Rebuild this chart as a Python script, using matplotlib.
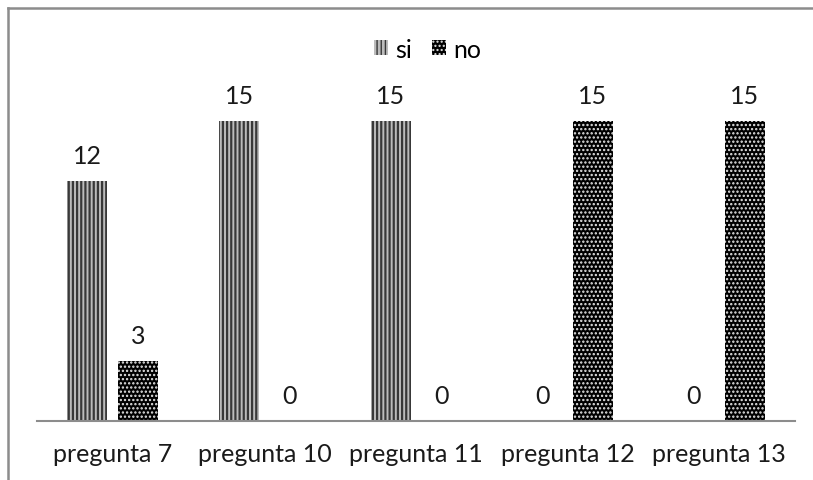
import matplotlib.pyplot as plt
from matplotlib.lines import Line2D
import numpy as np

categories = ['pregunta 7', 'pregunta 10', 'pregunta 11', 'pregunta 12', 'pregunta 13']
si_values = [12, 15, 15, 0, 0]
no_values = [3, 0, 0, 15, 15]

plt.rcParams['font.family'] = ['Lato', 'DejaVu Sans']

fig = plt.figure(figsize=(8.13, 4.81), dpi=100)
ax = fig.add_axes([37 / 813, 59 / 481, 758 / 813, 360 / 481])

x = np.arange(len(categories))
w = 0.264
off = 0.167

with plt.rc_context({'hatch.linewidth': 1.6}):
    bars_si = ax.bar(x - off, si_values, w, facecolor='#bcbcbc', edgecolor='#383838',
                     hatch='||||', linewidth=0, label='si')
with plt.rc_context({'hatch.linewidth': 1.1}):
    bars_no = ax.bar(x + off, no_values, w, facecolor='#000000', edgecolor='#e6e6e6',
                     hatch='....', linewidth=0, label='no')

for bars, vals in ((bars_si, si_values), (bars_no, no_values)):
    for b, v in zip(bars, vals):
        ax.annotate(str(v), (b.get_x() + b.get_width() / 2, v), xytext=(0, 10),
                    textcoords='offset points', ha='center', va='bottom',
                    fontsize=18, color='#1a1a1a')

ax.set_xlim(-0.5, len(categories) - 0.5)
ax.set_ylim(0, 18)
ax.set_xticks(x)
ax.set_xticklabels(categories, fontsize=18, color='#1a1a1a')
ax.tick_params(axis='x', length=0, pad=15)
ax.set_yticks([])
for s in ['top', 'right', 'left']:
    ax.spines[s].set_visible(False)
ax.spines['bottom'].set_color('#8c8c8c')
ax.spines['bottom'].set_linewidth(1.5)

ax.legend(loc='center', bbox_to_anchor=(428 / 813, 1 - 50 / 481), bbox_transform=fig.transFigure,
          ncol=2, frameon=False, fontsize=18, handlelength=0.55, handleheight=0.55,
          handletextpad=0.3, columnspacing=0.8)

# outer chart frame: only top and left edges are inside the crop
fy = 1 - 9 / 481
fx = 8 / 813
fig.add_artist(Line2D([fx, 1.0], [fy, fy], transform=fig.transFigure, color='#8c8c8c', lw=1.8))
fig.add_artist(Line2D([fx, fx], [0.0, fy], transform=fig.transFigure, color='#8c8c8c', lw=1.8))

fig.savefig('out.png', dpi=100)
